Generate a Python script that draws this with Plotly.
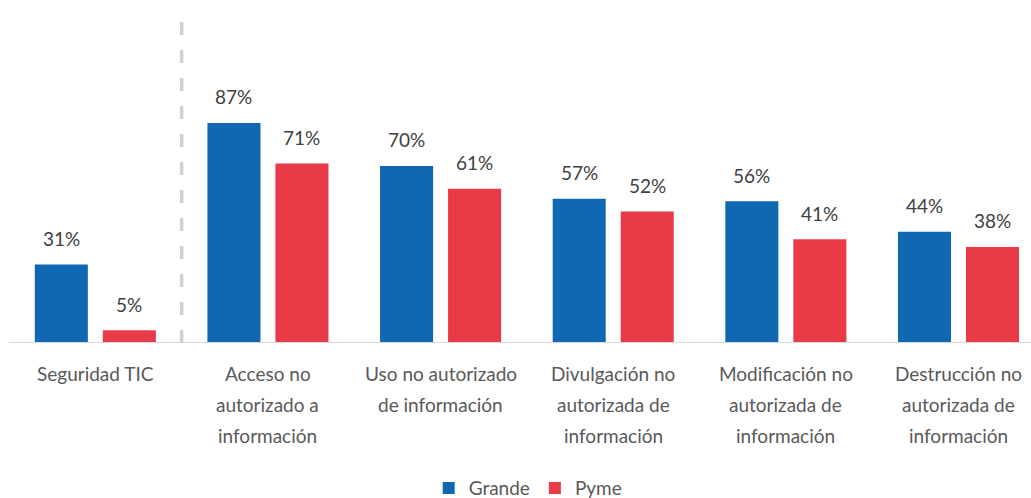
import plotly.graph_objects as go

categories = [
    "Seguridad TIC",
    "Acceso no<br>autorizado a<br>información",
    "Uso no autorizado<br>de información",
    "Divulgación no<br>autorizada de<br>información",
    "Modificación no<br>autorizada de<br>información",
    "Destrucción no<br>autorizada de<br>información",
]
grande = [31, 87, 70, 57, 56, 44]
pyme = [5, 71, 61, 52, 41, 38]
series_names = ["Grande", "Pyme"]
colors = ["#1067B2", "#E93B47"]

FONT = "Lato"
x_pos = list(range(len(categories)))

fig = go.Figure()
for name, vals, col in zip(series_names, [grande, pyme], colors):
    fig.add_trace(go.Bar(
        x=x_pos, y=vals, name=name, marker_color=col,
        marker_line_width=0, hoverinfo="skip",
    ))

# value labels above each bar
group_offset = 34
annotations = []
for k, vals in enumerate([grande, pyme]):
    shift = -group_offset if k == 0 else group_offset
    for xi, v in zip(x_pos, vals):
        annotations.append(dict(
            x=xi, y=v, xref="x", yref="y", text=f"{v}%", showarrow=False,
            xshift=shift, yshift=26, yanchor="middle",
            font=dict(family=FONT, size=19, color="#404040"),
        ))

# category labels, one annotation per line for wider line spacing
for xi, cat in zip(x_pos, categories):
    for j, line in enumerate(cat.split("<br>")):
        annotations.append(dict(
            x=xi, y=0, xref="x", yref="paper", text=line, showarrow=False,
            yanchor="middle", yshift=-30 - 31 * j,
            font=dict(family=FONT, size=19, color="#595959"),
        ))

shapes = [
    # baseline
    dict(type="line", xref="paper", yref="y", x0=0, x1=1, y0=0, y1=0,
         line=dict(color="#D9D9D9", width=2)),
    # separator between the general indicator and the specific ones
    dict(type="line", xref="x", yref="y", x0=0.5, x1=0.5, y0=0, y1=131.6,
         line=dict(color="#D0D0D0", width=3.5, dash="13px,15px")),
]

fig.update_layout(
    width=1031, height=498,
    margin=dict(l=9, r=0, t=0, b=155, autoexpand=False),
    paper_bgcolor="white", plot_bgcolor="white",
    barmode="group", bargap=0.212, bargroupgap=0.22,
    xaxis=dict(range=[-0.5, 5.42], showticklabels=False, showgrid=False,
               zeroline=False, showline=False, fixedrange=True),
    yaxis=dict(range=[0, 135.6], visible=False, showgrid=False,
               zeroline=False, fixedrange=True),
    showlegend=True,
    legend=dict(orientation="h", x=0.508, xanchor="center", y=-0.423,
                yanchor="middle", font=dict(family=FONT, size=19, color="#595959"),
                itemwidth=30, tracegroupgap=0),
    annotations=annotations,
    shapes=shapes,
    font=dict(family=FONT),
)

fig.write_html("out.html")
